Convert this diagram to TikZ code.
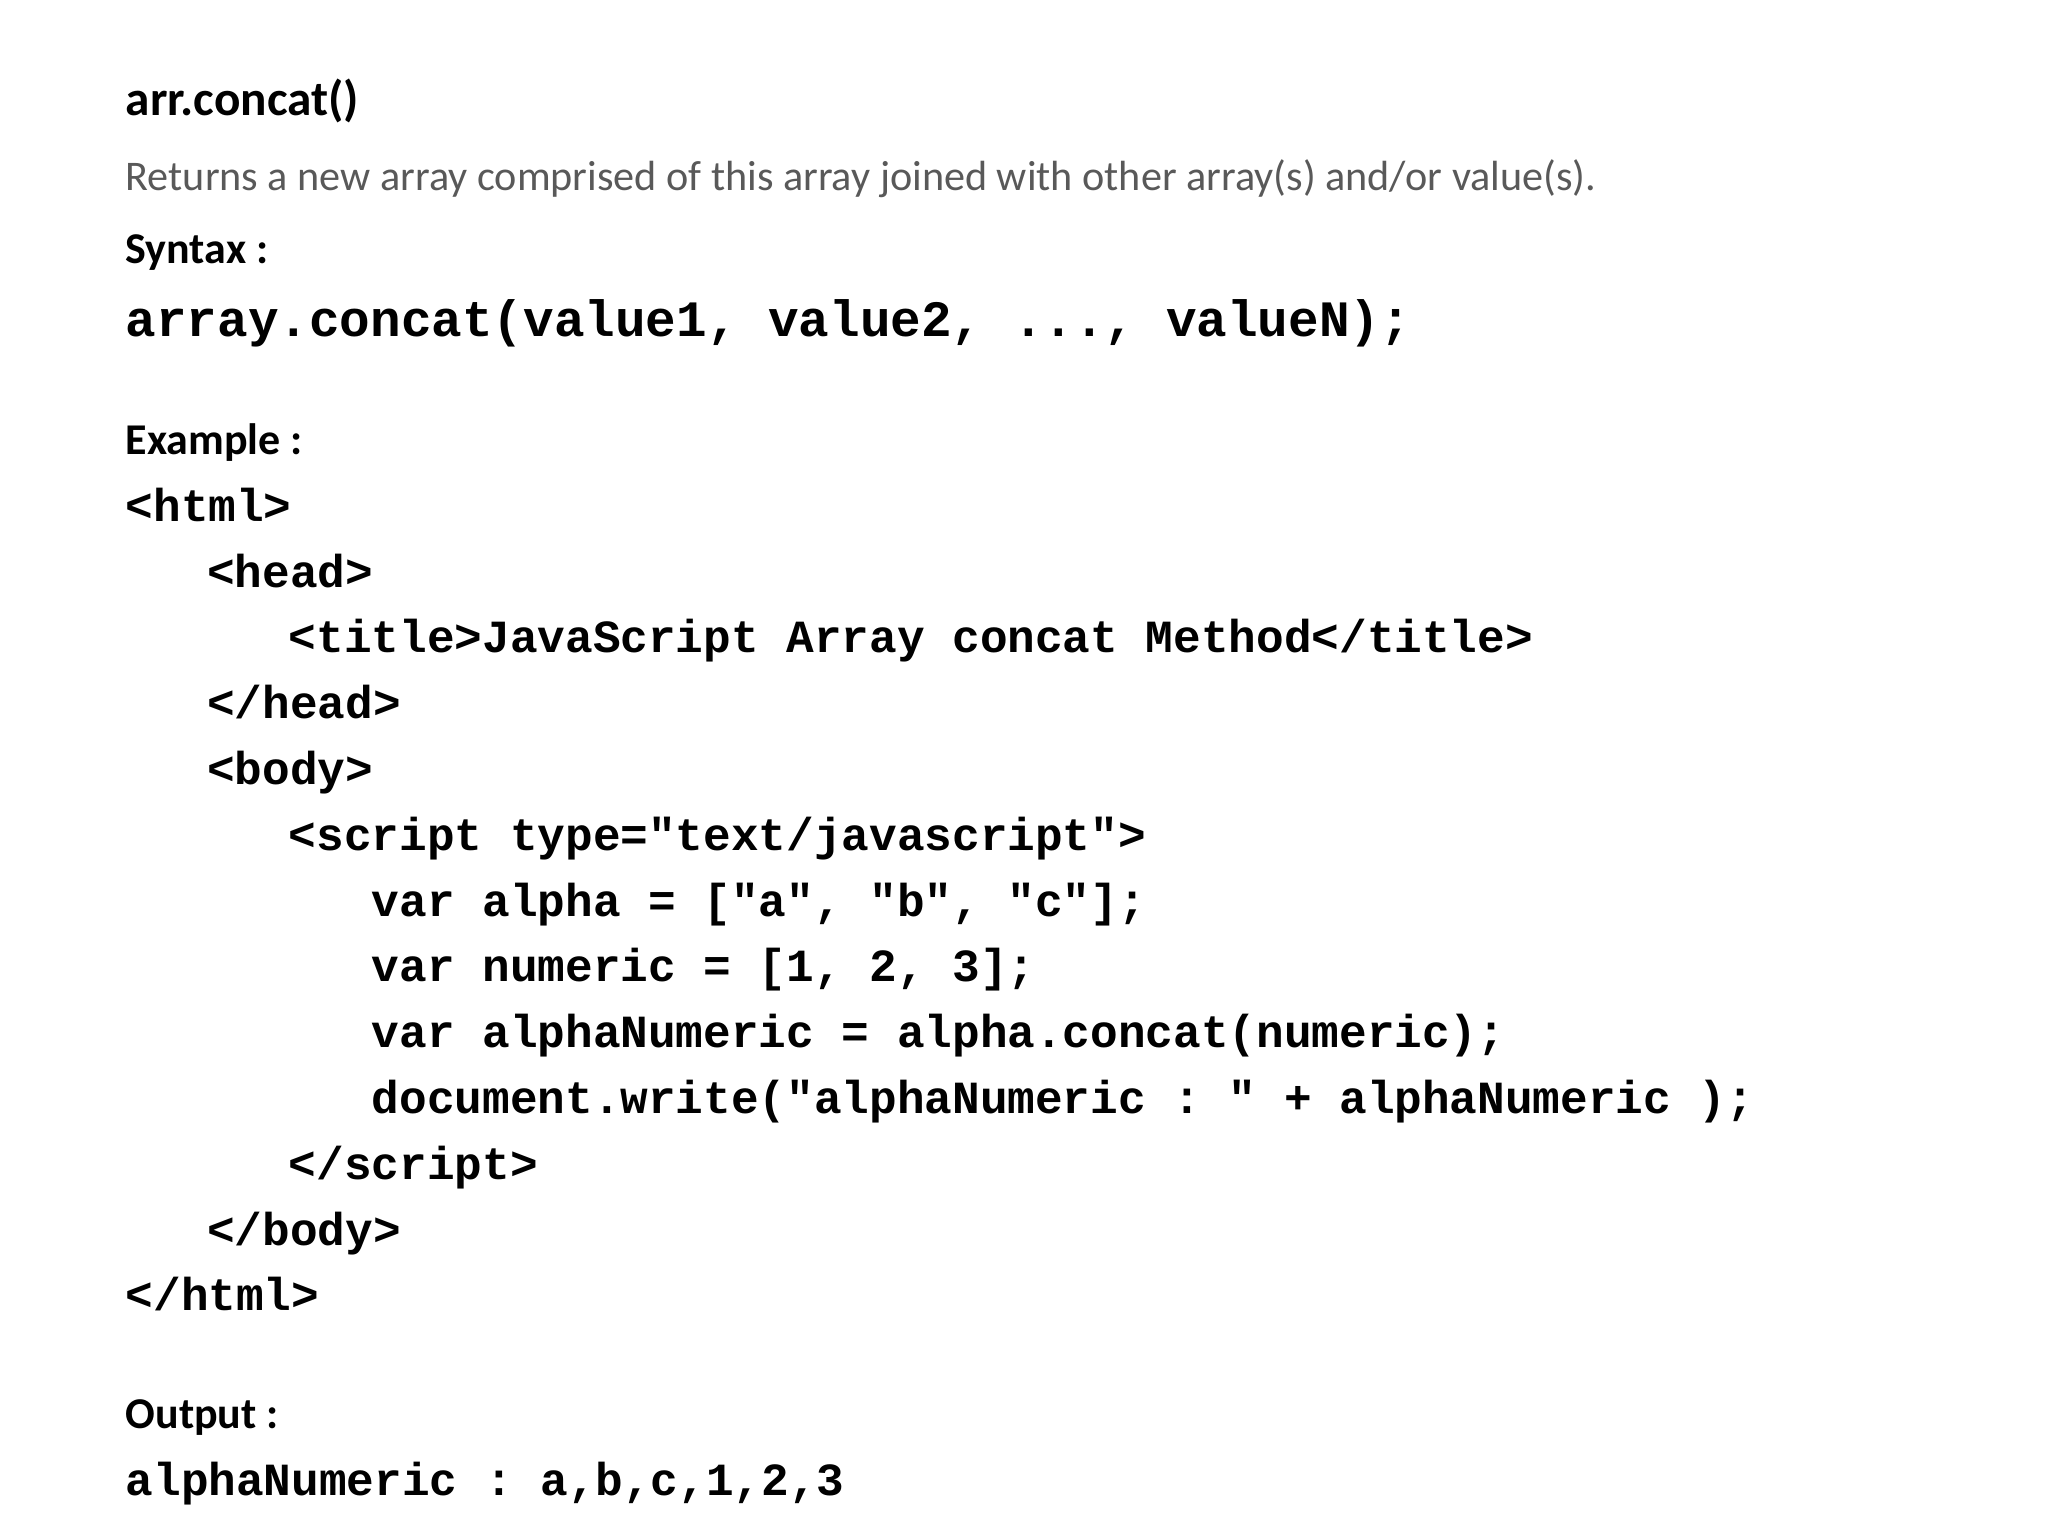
\documentclass[tikz,border=0pt]{standalone}
\usepackage{fontspec}
\setmainfont{Carlito}
\setmonofont{Liberation Mono}
\definecolor{desc}{RGB}{89,89,89}
\begin{document}
\begin{tikzpicture}[x=0.01316cm,y=-0.01316cm,
  txt/.style={anchor=base west,inner sep=0pt},
  head/.style={txt,font=\bfseries\fontsize{12.5pt}{14pt}\selectfont},
  code/.style={txt,font=\ttfamily\bfseries\fontsize{13.1pt}{15pt}\selectfont}]
\useasboundingbox (0,0) rectangle (1556,1167);
\node[txt,font=\bfseries\fontsize{14pt}{16pt}\selectfont] (t) at (95,88) {arr.concat()};
\node[txt,text=desc,font=\fontsize{12pt}{14pt}\selectfont] (d) at (95,145) {Returns a new array comprised of this array joined with other array(s) and/or value(s).};
\node[head] (s) at (95,200) {Syntax :};
\node[txt,font=\ttfamily\bfseries\fontsize{14.5pt}{16pt}\selectfont] (sy) at (95,256) {array.concat(value1, value2, ..., valueN);};
\node[head] (e) at (95,345) {Example :};
\node[code] (c1) at (95,396) {<html>};
\node[code] (c2) at (157,446) {<head>};
\node[code] (c3) at (219,496) {<title>JavaScript Array concat Method</title>};
\node[code] (c4) at (157,546) {</head>};
\node[code] (c5) at (157,596) {<body>};
\node[code] (c6) at (219,646) {<script type="text/javascript">};
\node[code] (c7) at (282,696) {var alpha = ["a", "b", "c"];};
\node[code] (c8) at (282,746) {var numeric = [1, 2, 3];};
\node[code] (c9) at (282,796) {var alphaNumeric = alpha.concat(numeric);};
\node[code] (c10) at (282,846) {document.write("alphaNumeric : " + alphaNumeric );};
\node[code] (c11) at (219,896) {</script>};
\node[code] (c12) at (157,946) {</body>};
\node[code] (c13) at (95,996) {</html>};
\node[head] (o) at (95,1085) {Output :};
\node[code] (out) at (95,1136) {alphaNumeric : a,b,c,1,2,3};
\end{tikzpicture}
\end{document}
